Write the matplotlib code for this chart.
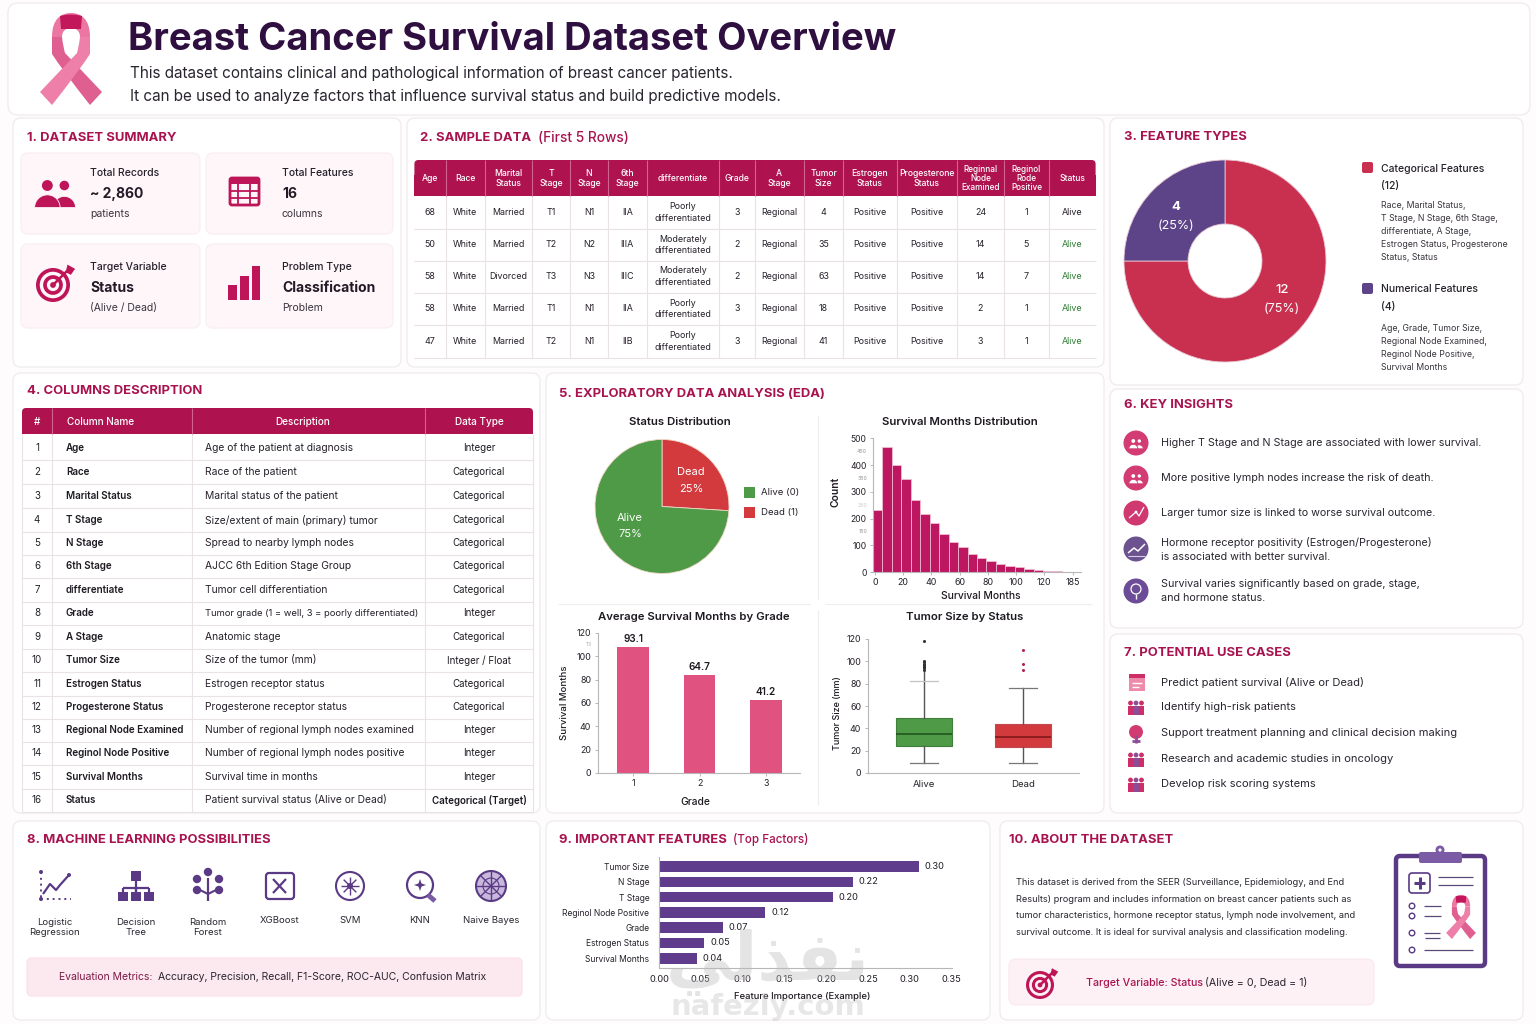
import numpy as np
import matplotlib
matplotlib.use('Agg')
import matplotlib.pyplot as plt
from matplotlib.patches import FancyBboxPatch, Rectangle, Circle, Wedge, Polygon, PathPatch
from matplotlib.path import Path

plt.rcParams['font.family'] = ['Inter', 'DejaVu Sans']

W, H = 1536, 1024
CRIMSON = '#A8134F'
HEADER = '#AE1350'
ICON = '#BE1558'
PURPLE = '#5A3A85'
DARK = '#26202A'

# ---- data ----
sample_cols = ['Age', 'Race', 'Marital\nStatus', 'T\nStage', 'N\nStage', '6th\nStage', 'differentiate', 'Grade',
               'A\nStage', 'Tumor\nSize', 'Estrogen\nStatus', 'Progesterone\nStatus', 'Reginnal\nNode\nExamined',
               'Reginol\nRode\nPositive', 'Status']
sample_rows = [
    ['68', 'White', 'Married', 'T1', 'N1', 'IIA', 'Poorly\ndifferentiated', '3', 'Regional', '4', 'Positive', 'Positive', '24', '1', 'Alive'],
    ['50', 'White', 'Married', 'T2', 'N2', 'IIIA', 'Moderately\ndifferentiated', '2', 'Regional', '35', 'Positive', 'Positive', '14', '5', 'Alive'],
    ['58', 'White', 'Divorced', 'T3', 'N3', 'IIIC', 'Moderately\ndifferentiated', '2', 'Regional', '63', 'Positive', 'Positive', '14', '7', 'Alive'],
    ['58', 'White', 'Married', 'T1', 'N1', 'IIA', 'Poorly\ndifferentiated', '3', 'Regional', '18', 'Positive', 'Positive', '2', '1', 'Alive'],
    ['47', 'White', 'Married', 'T2', 'N1', 'IIB', 'Poorly\ndifferentiated', '3', 'Regional', '41', 'Positive', 'Positive', '3', '1', 'Alive'],
]
col_names = ['Age', 'Race', 'Marital Status', 'T Stage', 'N Stage', '6th Stage', 'differentiate', 'Grade', 'A Stage',
             'Tumor Size', 'Estrogen Status', 'Progesterone Status', 'Regional Node Examined',
             'Reginol Node Positive', 'Survival Months', 'Status']
col_desc = ['Age of the patient at diagnosis', 'Race of the patient', 'Marital status of the patient',
            'Size/extent of main (primary) tumor', 'Spread to nearby lymph nodes', 'AJCC 6th Edition Stage Group',
            'Tumor cell differentiation', 'Tumor grade (1 = well, 3 = poorly differentiated)', 'Anatomic stage',
            'Size of the tumor (mm)', 'Estrogen receptor status', 'Progesterone receptor status',
            'Number of regional lymph nodes examined', 'Number of regional lymph nodes positive',
            'Survival time in months', 'Patient survival status (Alive or Dead)']
col_types = ['Integer', 'Categorical', 'Categorical', 'Categorical', 'Categorical', 'Categorical', 'Categorical',
             'Integer', 'Categorical', 'Integer / Float', 'Categorical', 'Categorical', 'Integer', 'Integer',
             'Integer', 'Categorical (Target)']

type_counts = [12, 4]
status_sizes = [26, 74]
hist_counts = [230, 466, 402, 347, 269, 216, 182, 143, 112, 92, 67, 51, 41, 30, 24, 17, 12, 9, 5, 2.5, 1]
grade_names = [1, 2, 3]
grade_heights = [107.7, 84.3, 62.9]
grade_labels = ['93.1', '64.7', '41.2']
box_alive = dict(med=35, q1=24, q3=49, whislo=9, whishi=82, fliers=[92, 94, 95, 96, 97, 98, 99, 100, 118])
box_dead = dict(med=32, q1=23, q3=44, whislo=9, whishi=76, fliers=[92, 98, 110])
imp_names = ['Tumor Size', 'N Stage', 'T Stage', 'Reginol Node Positive', 'Grade', 'Estrogen Status', 'Survival Months']
imp_heights = [0.311, 0.232, 0.208, 0.127, 0.0766, 0.054, 0.0455]
imp_labels = ['0.30', '0.22', '0.20', '0.12', '0.07', '0.05', '0.04']
insights = ['Higher T Stage and N Stage are associated with lower survival.',
            'More positive lymph nodes increase the risk of death.',
            'Larger tumor size is linked to worse survival outcome.',
            'Hormone receptor positivity (Estrogen/Progesterone)\nis associated with better survival.',
            'Survival varies significantly based on grade, stage,\nand hormone status.']
use_cases = ['Predict patient survival (Alive or Dead)', 'Identify high-risk patients',
             'Support treatment planning and clinical decision making',
             'Research and academic studies in oncology', 'Develop risk scoring systems']
ml_models = ['Logistic\nRegression', 'Decision\nTree', 'Random\nForest', 'XGBoost', 'SVM', 'KNN', 'Naive Bayes']

fig = plt.figure(figsize=(W / 100, H / 100), dpi=100, facecolor='#FEFCFD')
ax = fig.add_axes([0, 0, 1, 1], zorder=0)
ax.set_xlim(0, W)
ax.set_ylim(H, 0)
ax.axis('off')
# labels that sit on top of the inset axes go here
top = fig.add_axes([0, 0, 1, 1], zorder=5)
top.set_xlim(0, W)
top.set_ylim(H, 0)
top.axis('off')


def T(x, y, s, size=8, color=DARK, weight='normal', ha='left', va='center', a=None, **kw):
    return (a or ax).text(x, y + 0.9, s, fontsize=size, color=color, fontweight=weight, ha=ha, va=va, **kw)


def box(x0, y0, x1, y1, face='white', edge='#F1EDEF', r=8, lw=1, z=1):
    ax.add_patch(FancyBboxPatch((x0 + r, y0 + r), x1 - x0 - 2 * r, y1 - y0 - 2 * r,
                                boxstyle='round,pad=%d,rounding_size=%d' % (r, r),
                                fc=face, ec=edge, lw=lw, zorder=z))


def rect(x0, y0, x1, y1, c, z=3, **kw):
    ax.add_patch(Rectangle((x0, y0), x1 - x0, y1 - y0, fc=c, ec=kw.pop('ec', 'none'), lw=kw.pop('lw', 0), zorder=z, **kw))


def line(xs, ys, c='#E9E2E6', lw=0.8, z=3, **kw):
    ax.plot(xs, ys, color=c, lw=lw, zorder=z, solid_capstyle=kw.pop('cap', 'butt'), **kw)


def circ(x, y, r, c, z=4, **kw):
    ax.add_patch(Circle((x, y), r, fc=c, ec=kw.pop('ec', 'none'), lw=kw.pop('lw', 0), zorder=z))


def px_axes(x0, y0, x1, y1):
    a = fig.add_axes([x0 / W, 1 - y1 / H, (x1 - x0) / W, (y1 - y0) / H], zorder=2)
    a.patch.set_alpha(0)
    for s in ['top', 'right']:
        a.spines[s].set_visible(False)
    for s in ['left', 'bottom']:
        a.spines[s].set_color('#B9B6B9')
        a.spines[s].set_linewidth(0.8)
    a.tick_params(colors='#B9B6B9', labelcolor=DARK, labelsize=6.4, length=2.5, width=0.7, pad=2)
    return a


def ribbon(cx, cy, s, z=6):
    # s = scale, 1.0 is the big one in the header, (cx, cy) its centre
    def shape(verts, codes, c, zz):
        pts = [(cx + s * vx, cy + s * vy) for vx, vy in verts]
        ax.add_patch(PathPatch(Path(pts, codes), fc=c, ec='none', zorder=zz))
    M, L, C3, C4, Z = Path.MOVETO, Path.LINETO, Path.CURVE3, Path.CURVE4, Path.CLOSEPOLY
    # arch over the loop
    shape([(-19, -22), (-19, -40), (-10, -46), (0, -46), (10, -46), (19, -40), (19, -22), (9, -22),
           (9, -28), (5, -31), (0, -31), (-5, -31), (-9, -28), (-9, -22), (-19, -22)],
          [M, C4, C4, C4, C4, C4, C4, L, C4, C4, C4, C4, C4, C4, Z], '#EB76A2', z)
    # dark inside of the arch
    shape([(-11, -43), (0, -46), (11, -43), (10, -30), (-10, -30), (-11, -43)], [M, C3, C3, L, L, Z], '#C2185B', z + 1)
    # band going down to the right
    shape([(-19, -22), (-9, -22), (-8, -13), (-6, -6), (31, 33), (19, 46), (-8, 12), (-19, -5), (-19, -22)],
          [M, L, C3, C3, L, L, C3, C3, Z], '#DE5F90', z)
    # band going down to the left, in front
    shape([(19, -22), (9, -22), (8, -13), (6, -6), (-31, 33), (-19, 46), (8, 12), (19, -5), (19, -22)],
          [M, L, C3, C3, L, L, C3, C3, Z], '#EE7FA9', z + 1)


def people(x, y, s, c=ICON, bg='white'):
    for dx, r in [(0.55, 0.88), (-0.45, 1.0)]:
        circ(x + dx * s, y - 0.5 * s, 0.32 * s * r, c, z=5)
        ax.add_patch(Wedge((x + dx * s, y + 0.8 * s), 0.75 * s * r, 180, 360, fc=c, ec=bg, lw=0.6, zorder=5))


def target(x, y, r, c=ICON, bg='#FDF1F5'):
    circ(x, y, r, c, z=5)
    circ(x, y, r * 0.78, bg, z=5)
    circ(x, y, r * 0.58, c, z=5)
    circ(x, y, r * 0.36, bg, z=5)
    circ(x, y, r * 0.17, c, z=5)
    line([x, x + r * 0.95], [y, y - r * 0.95], c=c, lw=1.8, z=6)
    ax.add_patch(Polygon([(x + r * 0.75, y - r * 0.75), (x + r * 0.85, y - r * 1.2), (x + r * 1.3, y - r * 0.95),
                          (x + r * 1.05, y - r * 0.6)], fc=c, ec='none', zorder=6))


def section(x, y, s, extra=None, extra_x=None, extra_size=9.9):
    T(x, y, s, 9.4, CRIMSON, 'bold', zorder=6)
    if extra:
        T(extra_x, y, extra, extra_size, CRIMSON, 'medium', zorder=6)


# ---- cards ----
box(8, 3, 1530, 115, r=10)
ribbon(71, 59, 1.0)
T(128, 39, 'Breast Cancer Survival Dataset Overview', 27.5, '#2E0F40', 'bold', zorder=5)
T(130, 73, 'This dataset contains clinical and pathological information of breast cancer patients.', 11.0, '#2A2530', zorder=5)
T(130, 95.5, 'It can be used to analyze factors that influence survival status and build predictive models.', 11.0, '#2A2530', zorder=5)

for p in [(13, 118, 401, 367), (407, 118, 1104, 367), (1110, 118, 1523, 385), (13, 373, 540, 813), (546, 373, 1104, 813),
          (1110, 389, 1523, 628), (1110, 634, 1523, 813), (13, 821, 540, 1020), (546, 821, 990, 1020), (1000, 821, 1523, 1020)]:
    box(*p)

# ---- 1 summary ----
section(27, 137, '1. DATASET SUMMARY')
cards = [(21, 153, 200, 234, 90, 'Total Records', '~ 2,860', 'patients', (172.5, 193, 213)),
         (206, 153, 393, 234, 282, 'Total Features', '16', 'columns', (172.5, 193, 213)),
         (21, 244, 200, 328, 90, 'Target Variable', 'Status', '(Alive / Dead)', (266, 287.5, 307)),
         (206, 244, 393, 328, 282, 'Problem Type', 'Classification', 'Problem', (266, 287.5, 307))]
for x0, y0, x1, y1, tx, a1, a2, a3, ys in cards:
    box(x0, y0, x1, y1, face='#FEF6F9', edge='#FAF0F4', r=7, z=2)
    T(tx, ys[0], a1, 7.5, DARK, 'medium', zorder=5)
    T(tx, ys[1], a2, 10.0, '#221A26', 'bold', zorder=5)
    T(tx, ys[2], a3, 7.5, '#3A343E', zorder=5)
people(55, 194, 17, bg='#FEF6F9')
ax.add_patch(FancyBboxPatch((230, 178), 29, 27, boxstyle='round,pad=0,rounding_size=2', fc='#FEF6F9', ec=ICON, lw=2, zorder=5))
rect(229, 178, 260, 184, ICON, z=5)
for v in [238, 250]:
    line([v, v], [184, 205], c=ICON, lw=1.3, z=6)
for v in [191, 198]:
    line([229, 260], [v, v], c=ICON, lw=1.3, z=6)
target(53, 285, 17, bg='#FEF6F9')
for a0, a1, a2 in [(228, 237, 285), (240, 249, 276), (252, 260, 266)]:
    rect(a0, a2, a1, 300, ICON, z=5)

# ---- 2 sample table ----
section(420, 137, '2. SAMPLE DATA', '(First 5 Rows)', 538)
col_x = [414.4, 446, 484.5, 532, 570, 608, 646.5, 719, 754.6, 803.7, 843.4, 896.5, 957, 1004, 1049, 1095.6]
row_y = [196, 229, 260.7, 292.7, 325.3, 358.3]
ax.add_patch(FancyBboxPatch((414.4, 160), 681.2, 36, boxstyle='round,pad=0,rounding_size=4', fc=HEADER, ec='none', zorder=3))
rect(414.4, 175, 1095.6, 196, HEADER, z=3)
for i, c in enumerate(sample_cols):
    xm = (col_x[i] + col_x[i + 1]) / 2
    T(xm, 177.5, c, 6.2 if c.count('\n') < 2 else 5.9, 'white', 'medium', ha='center', zorder=5, linespacing=1.05 if c.count('\n') == 2 else 1.25)
    if i:
        line([col_x[i]] * 2, [160, 196], c='#D2628F', z=4)
        line([col_x[i]] * 2, [196, 358.3], z=3)
for y in row_y[1:]:
    line([414.4, 1095.6], [y, y], z=3)
for r, vals in enumerate(sample_rows):
    ym = (row_y[r] + row_y[r + 1]) / 2
    for i, v in enumerate(vals):
        xm = (col_x[i] + col_x[i + 1]) / 2
        c = DARK
        if i == 14 and r > 0:
            c = '#2E7D32'
        T(xm, ym - 1, v, 6.4, c, ha='center', zorder=5, linespacing=1.35)

# ---- 3 feature types ----
section(1124, 136, '3. FEATURE TYPES')
a = fig.add_axes([1124 / W, 1 - 362 / H, 202 / W, 202 / H], zorder=2)
a.pie(type_counts, colors=['#C9304F', '#5D4488'], startangle=90, counterclock=False, radius=1,
      wedgeprops=dict(width=1 - 37 / 101, edgecolor='#E6C7D2', linewidth=0.6))
a.set_xlim(-1, 1)
a.set_ylim(-1, 1)
T(1176, 206, '4', 9.5, 'white', 'bold', ha='center', a=top)
T(1176, 225, '(25%)', 9, 'white', ha='center', a=top)
T(1282, 289, '12', 9.5, 'white', 'medium', ha='center', a=top)
T(1282, 308, '(75%)', 9, 'white', ha='center', a=top)
ax.add_patch(FancyBboxPatch((1362, 162), 11, 11, boxstyle='round,pad=0,rounding_size=2', fc='#C9304F', ec='none', zorder=5))
ax.add_patch(FancyBboxPatch((1362, 283), 11, 11, boxstyle='round,pad=0,rounding_size=2', fc='#5D4488', ec='none', zorder=5))
T(1381, 168, 'Categorical Features', 7.5, DARK, 'medium', zorder=5)
T(1381, 185, '(12)', 7.5, DARK, 'medium', zorder=5)
for i, s in enumerate(['Race, Marital Status,', 'T Stage, N Stage, 6th Stage,', 'differentiate, A Stage,',
                       'Estrogen Status, Progesterone', 'Status, Status']):
    T(1381, 205 + i * 13, s, 6.3, '#3A343E', zorder=5)
T(1381, 288, 'Numerical Features', 7.5, DARK, 'medium', zorder=5)
T(1381, 306, '(4)', 7.5, DARK, 'medium', zorder=5)
for i, s in enumerate(['Age, Grade, Tumor Size,', 'Regional Node Examined,', 'Reginol Node Positive,', 'Survival Months']):
    T(1381, 328 + i * 13, s, 6.3, '#3A343E', zorder=5)

# ---- 4 columns description ----
section(27, 390, '4. COLUMNS DESCRIPTION')
tx = [22, 52, 192, 425, 533]
ax.add_patch(FancyBboxPatch((22, 408), 511, 26, boxstyle='round,pad=0,rounding_size=4', fc=HEADER, ec='none', zorder=3))
rect(22, 420, 533, 434, HEADER, z=3)
T(37, 421, '#', 7.2, 'white', 'medium', ha='center', zorder=5)
T(67, 421, 'Column Name', 7.2, 'white', 'medium', zorder=5)
T(303, 421, 'Description', 7.2, 'white', 'medium', ha='center', zorder=5)
T(479, 421, 'Data Type', 7.2, 'white', 'medium', ha='center', zorder=5)
row_mid = [448, 472, 496, 520, 543, 566, 590, 613, 637, 660, 684, 707, 730, 753, 777, 800]
for x in tx[1:-1]:
    line([x, x], [408, 434], c='#D2628F', z=4)
    line([x, x], [434, 812], z=3)
line([22, 22], [434, 812], z=3)
line([533, 533], [434, 812], z=3)
for i in range(16):
    y = row_mid[i]
    line([22, 533], [y + 11.7, y + 11.7], z=3)
    T(37, y - 0.5, str(i + 1), 7, DARK, ha='center', zorder=5)
    T(66, y - 0.5, col_names[i], 7.1, '#1F1A22', 'semibold', zorder=5)
    T(205, y - 0.5, col_desc[i], 6.75 if i == 7 else 7.4, DARK, zorder=5)
    T(479, y - 0.5, col_types[i], 7, '#1F1A22', 'semibold' if i == 15 else 'normal', ha='center', zorder=5)

# ---- 5 EDA ----
section(559, 393, '5. EXPLORATORY DATA ANALYSIS (EDA)')
line([818, 818], [415, 600], z=2, c='#F1ECEF')
line([818, 818], [610, 805], z=2, c='#F1ECEF')
line([558, 810], [604, 604], z=2, c='#F1ECEF')
line([825, 1092], [604, 604], z=2, c='#F1ECEF')
T(680, 421.5, 'Status Distribution', 8.2, '#1F1A22', 'semibold', ha='center', zorder=5)
T(960, 421.5, 'Survival Months Distribution', 8.2, '#1F1A22', 'semibold', ha='center', zorder=5)
T(694, 616.5, 'Average Survival Months by Grade', 8.2, '#1F1A22', 'semibold', ha='center', zorder=5)
T(965, 616.5, 'Tumor Size by Status', 8.2, '#1F1A22', 'semibold', ha='center', zorder=5)

# pie
a = fig.add_axes([595 / W, 1 - 573.5 / H, 134 / W, 134 / H], zorder=2)
a.pie(status_sizes, colors=['#D23A3E', '#4E9A47'], startangle=90, counterclock=False, radius=1,
      wedgeprops=dict(edgecolor='#EFD9C8', linewidth=0.6))
a.set_xlim(-1, 1)
a.set_ylim(-1, 1)
T(691, 471, 'Dead', 8, 'white', ha='center', a=top)
T(691.5, 488, '25%', 8, 'white', ha='center', a=top)
T(630, 517, 'Alive', 8, 'white', ha='center', a=top)
T(630, 533, '75%', 8, 'white', ha='center', a=top)
rect(744, 487, 755, 498, '#4E9A47', z=5)
rect(744, 507, 755, 518, '#D23A3E', z=5)
T(761, 491.5, 'Alive (0)', 6.9, DARK, zorder=5)
T(761, 511.5, 'Dead (1)', 6.9, DARK, zorder=5)

# histogram
a = px_axes(873, 438.3, 1081, 572)
bin_w = 6.7
bin_left = -1.4 + np.arange(len(hist_counts)) * bin_w
a.bar(bin_left, hist_counts, width=bin_w, align='edge', color='#BC1760', edgecolor='#F3C6D8', linewidth=0.5)
a.set_xlim(-1.4, 146)
a.set_ylim(0, 500)
a.set_xticks([0, 20, 40, 60, 80, 100, 120, 140])
a.set_xticklabels(['0', '20', '40', '60', '80', '100', '120', '185'])
a.set_yticks([0, 100, 200, 300, 400, 500])
a.set_yticklabels(['0', '100', '200', '300', '400', '500'])
for lab in a.get_yticklabels():
    lab.set_fontsize(6.2)
for v in [150, 250, 350, 450]:
    a.text(-5.5, v, str(v), fontsize=3.6, color='#A9A5A9', ha='right', va='center', fontweight='bold', alpha=0.8 if v != 250 else 0.4)
a.set_xlabel('Survival Months', fontsize=7.4, color='#1F1A22', fontweight='medium', labelpad=3, x=0.52)
a.set_ylabel('Count', fontsize=7.4, color='#1F1A22', fontweight='semibold', labelpad=7, y=0.6)

# grade bars
a = px_axes(597.5, 633, 800, 773)
a.bar(grade_names, grade_heights, width=0.47, color='#E0527F')
for g, h, lab in zip(grade_names, grade_heights, grade_labels):
    a.text(g, h + 2.5, lab, ha='center', va='bottom', fontsize=7.2, color='#1F1A22', fontweight='semibold')
a.set_xlim(0.466, 3.51)
a.set_ylim(0, 120)
a.set_xticks(grade_names)
a.set_yticks(range(0, 121, 20))
a.set_xlabel('Grade', fontsize=7.4, color='#1F1A22', fontweight='medium', labelpad=6, x=0.485)
a.set_ylabel('Survival Months', fontsize=6.9, color='#1F1A22', fontweight='medium', labelpad=5)
a.text(0.39, 110, '110', fontsize=3.2, color='#B0ACB0', ha='right', va='center', transform=a.transData, clip_on=False)

# box plot
a = px_axes(867.5, 639, 1079, 773)
stats = [dict(box_alive, label='Alive'), dict(box_dead, label='Dead')]
a.plot([1, 1], [82, 100], color='#555555', lw=1)
bp = a.bxp(stats, positions=[1, 2], widths=0.565, patch_artist=True, showfliers=True,
           flierprops=dict(marker='o', markersize=2.2, markerfacecolor='#333333', markeredgecolor='none'),
           medianprops=dict(color='#1E4F1B', linewidth=1.1),
           whiskerprops=dict(color='#555555', linewidth=1), capprops=dict(color='#777777', linewidth=0.9),
           boxprops=dict(linewidth=0.8))
bp['boxes'][0].set(facecolor='#4E9A47', edgecolor='#3F7F3A')
bp['boxes'][1].set(facecolor='#D23A3E', edgecolor='#C2484C')
bp['medians'][1].set_color('#7A1518')
bp['caps'][2 + 1].set_color('#777777')
bp['caps'][1].set_color('#C5C2C4')
bp['fliers'][1].set(markerfacecolor='#B2244F')
a.set_xlim(0.43, 2.566)
a.set_ylim(0, 120)
a.set_yticks(range(0, 121, 20))
a.tick_params(axis='x', length=0, pad=5, labelsize=6.9)
a.set_ylabel('Tumor Size (mm)', fontsize=6.5, color='#1F1A22', fontweight='medium', labelpad=3, y=0.45)

# ---- 6 insights ----
section(1124, 404, '6. KEY INSIGHTS')
ins_y = [443, 478, 513, 549, 591]
ins_c = ['#D23C72', '#D23C72', '#D0396F', '#6C528F', '#6C4C96']
for i, s in enumerate(insights):
    y = ins_y[i]
    circ(1136, y, 12.5, ins_c[i])
    if i < 2:
        people(1136, y + 1, 6, c='white', bg=ins_c[i])
    elif i == 2:
        line([1129, 1136, 1139, 1144], [y + 5, y - 1, y + 3, y - 6], c='white', lw=0.9, z=6)
        circ(1136, y - 1, 1.4, 'white', z=6)
    elif i == 3:
        line([1128, 1134, 1138, 1145], [y + 4, y - 1, y + 2, y - 5], c='white', lw=1.1, z=6)
        line([1128, 1145], [y + 7, y + 7], c='#D9CDE6', lw=0.8, z=6)
    else:
        circ(1136, y - 2, 5, '#6C4C96', z=6, ec='white', lw=0.9)
        line([1136, 1136], [y + 3, y + 8], c='white', lw=1, z=6)
    T(1161, y - 0.5, s, 7.75, '#2A2530', zorder=5, linespacing=1.5)

# ---- 7 use cases ----
section(1124, 652, '7. POTENTIAL USE CASES')
uc_y = [682, 707, 733, 759, 784]
for i, s in enumerate(use_cases):
    y = uc_y[i]
    T(1161, y - 0.5, s, 8.05, '#2A2530', zorder=5)
    if i == 0:
        rect(1129, y - 8, 1145, y + 9, '#EE8AAA', z=5)
        rect(1129, y - 8, 1145, y - 4, '#CD2E68', z=6)
        line([1132, 1142], [y + 1, y + 1], c='white', lw=1, z=6)
        line([1132, 1139], [y + 5, y + 5], c='white', lw=1, z=6)
    elif i == 2:
        circ(1136, y - 1, 7, '#D23C72', z=5)
        line([1136, 1136], [y + 2, y + 10], c='#8E4C96', lw=2, z=6)
        line([1132, 1140], [y + 8, y + 8], c='#8E4C96', lw=2, z=6)
    else:
        for dx in [-5.5, 0, 5.5]:
            col = '#CD2E68' if dx != 0 else '#8E4C96'
            circ(1136 + dx, y - 4, 2.4, col, z=5)
            rect(1136 + dx - 2.6, y - 1, 1136 + dx + 2.6, y + 8, col, z=5)

# ---- 8 ML ----
section(27, 839, '8. MACHINE LEARNING POSSIBILITIES')
ml_x = [55, 136, 208, 280, 350, 420, 491]
for x, s in zip(ml_x, ml_models):
    T(x, 920 if '\n' not in s else 926.5, s, 6.9, '#2A2530', ha='center', zorder=5, linespacing=1.25)
# logistic regression icon
x, y = ml_x[0], 886
line([x - 14, x - 14], [y - 14, y + 13], c=PURPLE, lw=1.4, z=5, linestyle=(0, (1, 2)))
line([x - 14, x + 16], [y + 13, y + 13], c=PURPLE, lw=1.4, z=5, linestyle=(0, (1, 2)))
line([x - 12, x - 5, x + 1, x + 5, x + 14], [y + 8, y - 2, y + 4, y - 1, y - 11], c=PURPLE, lw=1.6, z=5)
for px_, py_ in [(x - 14, y - 14), (x + 14, y - 11), (x - 14, y + 13)]:
    circ(px_, py_, 2, PURPLE, z=6)
# decision tree icon
x = ml_x[1]
rect(x - 5, y - 15, x + 5, y - 5, PURPLE, z=5)
line([x, x], [y - 5, y + 6], c=PURPLE, lw=1.6, z=5)
line([x - 13, x + 13], [y + 2, y + 2], c=PURPLE, lw=1.6, z=5)
for dx in [-13, 0, 13]:
    line([x + dx, x + dx], [y + 2, y + 7], c=PURPLE, lw=1.6, z=5)
    rect(x + dx - 5, y + 6, x + dx + 5, y + 15, PURPLE, z=5)
# random forest icon
x = ml_x[2]
for dx, dy in [(0, -14), (-11, -7), (11, -7), (-11, 4), (11, 4)]:
    circ(x + dx, y + dy, 4.2, PURPLE, z=5)
line([x, x], [y - 8, y + 15], c=PURPLE, lw=1.6, z=5)
line([x - 8, x, x + 8], [y + 4, y + 8, y + 4], c=PURPLE, lw=1.5, z=5)
# xgboost icon
x = ml_x[3]
ax.add_patch(FancyBboxPatch((x - 14, y - 13), 28, 26, boxstyle='round,pad=0,rounding_size=3', fc='white', ec=PURPLE, lw=1.6, zorder=5))
line([x - 7, x + 6], [y - 7, y + 7], c=PURPLE, lw=1.6, z=6)
line([x - 7, x + 6], [y + 7, y - 7], c=PURPLE, lw=1.6, z=6)
# svm icon
x = ml_x[4]
circ(x, y, 14, 'none', ec=PURPLE, lw=1.5, z=5)
for ang in np.deg2rad(range(0, 180, 45)):
    line([x - 9 * np.cos(ang), x + 9 * np.cos(ang)], [y - 9 * np.sin(ang), y + 9 * np.sin(ang)], c=PURPLE, lw=1, z=5)
circ(x, y, 3, PURPLE, z=6)
# knn icon
x = ml_x[5]
circ(x, y - 1, 13, 'none', ec=PURPLE, lw=1.6, z=5)
ax.add_patch(Polygon([(x, y - 7), (x + 2, y - 1), (x, y + 5), (x - 2, y - 1)], fc=PURPLE, zorder=6))
ax.add_patch(Polygon([(x - 6, y - 1), (x, y - 3), (x + 6, y - 1), (x, y + 1)], fc=PURPLE, zorder=6))
line([x + 8, x + 15], [y + 9, y + 15], c='#7B5AA6', lw=3.5, z=6)
# naive bayes icon
x = ml_x[6]
circ(x, y, 15, '#C9B8DD', ec=PURPLE, lw=1.5, z=5)
for ang in np.deg2rad(range(0, 180, 45)):
    line([x - 15 * np.cos(ang), x + 15 * np.cos(ang)], [y - 15 * np.sin(ang), y + 15 * np.sin(ang)], c=PURPLE, lw=1, z=6)
circ(x, y, 8, 'none', ec=PURPLE, lw=0.8, z=6)
box(27, 958, 522, 996, face='#FCE9EF', edge='#FBE3EB', r=5, z=2)
T(59, 976, 'Evaluation Metrics:', 7.5, '#7E1845', zorder=5)
T(157.5, 976, 'Accuracy, Precision, Recall, F1-Score, ROC-AUC, Confusion Matrix', 7.5, '#2A2530', zorder=5)

# ---- 9 importance ----
section(559, 839, '9. IMPORTANT FEATURES', '(Top Factors)', 733, 8.4)
a = px_axes(659, 856.7, 951.7, 967.7)
ypos = np.arange(len(imp_names))
a.barh(ypos, imp_heights, height=0.69, color='#5F3C8C')
for yv, h, lab in zip(ypos, imp_heights, imp_labels):
    a.text(h + 0.007, yv, lab, va='center', ha='left', fontsize=6.7, color=DARK)
a.set_yticks(ypos)
a.set_yticklabels(imp_names, fontsize=6.1)
a.set_ylim(6.62, -0.65)
a.set_xlim(0, 0.35)
a.set_xticks(np.arange(0, 0.36, 0.05))
a.set_xticklabels(['%.2f' % v for v in np.arange(0, 0.36, 0.05)], fontsize=6.7)
a.tick_params(axis='y', length=0, pad=7)
a.tick_params(axis='x', length=0, pad=5)
a.set_xlabel('Feature Importance (Example)', fontsize=6.8, color='#1F1A22', fontweight='medium', labelpad=5)
a.xaxis.set_label_coords(0.49, -0.22)

# ---- 10 about ----
section(1009, 839, '10. ABOUT THE DATASET')
about = ['This dataset is derived from the SEER (Surveillance, Epidemiology, and End',
         'Results) program and includes information on breast cancer patients such as',
         'tumor characteristics, hormone receptor status, lymph node involvement, and',
         'survival outcome. It is ideal for survival analysis and classification modeling.']
for y, s in zip([881.5, 898.5, 915, 931.5], about):
    T(1016, y, s, 6.65, '#2A2530', zorder=5)
box(1009, 959, 1374, 1005, face='#FDF1F5', edge='#FBEBF1', r=7, z=2)
target(1040, 985, 14)
T(1086, 982, 'Target Variable: Status', 7.7, CRIMSON, 'medium', zorder=5)
T(1205, 982, '(Alive = 0, Dead = 1)', 7.7, '#2A2530', zorder=5)
# clipboard
ax.add_patch(FancyBboxPatch((1396, 856), 89, 110, boxstyle='round,pad=0,rounding_size=4', fc='white', ec=PURPLE, lw=3.2, zorder=5))
ax.add_patch(FancyBboxPatch((1419, 852), 43, 11, boxstyle='round,pad=0,rounding_size=2', fc='#7B5AA6', ec='none', zorder=6))
circ(1440, 850, 4.5, '#7B5AA6', z=6)
circ(1440, 850, 1.6, 'white', z=7)
ax.add_patch(FancyBboxPatch((1409, 873), 21, 20, boxstyle='round,pad=0,rounding_size=3', fc='white', ec=PURPLE, lw=1.2, zorder=6))
line([1419.5, 1419.5], [877, 889], c=PURPLE, lw=2.2, z=7)
line([1414, 1425], [883, 883], c=PURPLE, lw=2.2, z=7)
line([1438, 1473], [877, 877], c='#5A4A78', lw=0.9, z=6)
line([1438, 1473], [885, 885], c='#5A4A78', lw=0.9, z=6)
for y, x1 in [(906, 1441), (916, 1441), (933, 1440), (938, 1440), (950, 1473)]:
    line([1424 if y != 938 else 1425, x1], [y, y], c='#5A4A78', lw=0.9, z=6)
for y in [906, 916, 933, 950]:
    circ(1412, y, 2.8, 'white', z=6, ec=PURPLE, lw=1)
ribbon(1461, 917, 0.48, z=7)

# ---- watermark ----
top.text(768, 962, '\ufef2\ufedf\ufeac\ufed4\ufee7', fontsize=48, color='#BDBDBD', alpha=0.4, fontweight='bold',
         ha='center', va='center', family='DejaVu Sans')
top.text(768, 1007, 'nafezly.com', fontsize=21, color='#BDBDBD', alpha=0.35, fontweight='bold', ha='center', va='center', family='DejaVu Sans')

fig.savefig('out.png', dpi=100, facecolor=fig.get_facecolor())
